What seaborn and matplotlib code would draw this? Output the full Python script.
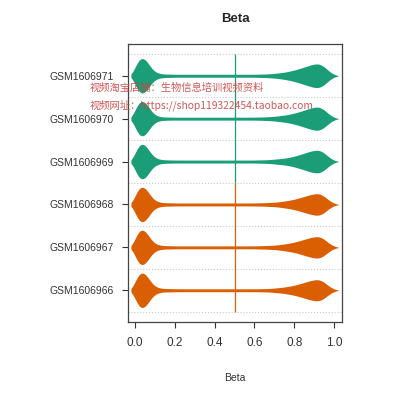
import numpy as np
import pandas as pd
import matplotlib
matplotlib.use("Agg")
import matplotlib.pyplot as plt
import seaborn as sns

beta_grid = [round(0.02 * i, 2) for i in range(51)]

samples = ["GSM1606971", "GSM1606970", "GSM1606969",
           "GSM1606968", "GSM1606967", "GSM1606966"]
groups = ["green", "green", "green", "orange", "orange", "orange"]

counts_971 = [45, 92, 100, 80, 44, 22, 13, 10, 9, 9,
              8, 8, 8, 8, 8, 8, 8, 8, 8, 8,
              8, 8, 8, 8, 8, 8, 8, 8, 8, 8,
              8, 9, 9, 10, 11, 13, 15, 18, 21, 26,
              31, 37, 44, 51, 58, 64, 66, 58, 40, 20, 7]
counts_970 = [46, 93, 100, 79, 43, 21, 12, 9, 9, 8,
              8, 8, 8, 8, 8, 8, 8, 8, 8, 8,
              8, 8, 8, 8, 8, 8, 8, 8, 8, 8,
              8, 9, 9, 10, 11, 13, 15, 18, 21, 25,
              30, 36, 43, 50, 57, 63, 65, 57, 39, 20, 7]
counts_969 = [45, 92, 100, 80, 44, 22, 13, 10, 9, 9,
              8, 8, 8, 8, 8, 8, 8, 8, 8, 8,
              8, 8, 8, 8, 8, 8, 8, 8, 8, 8,
              8, 9, 9, 10, 11, 13, 15, 17, 20, 24,
              29, 35, 42, 49, 56, 61, 63, 56, 38, 19, 7]
counts_968 = [45, 92, 100, 80, 44, 22, 13, 10, 9, 9,
              8, 8, 8, 8, 8, 8, 8, 8, 8, 8,
              8, 8, 8, 8, 8, 8, 8, 8, 8, 8,
              8, 9, 9, 10, 11, 12, 14, 17, 20, 24,
              28, 34, 40, 47, 53, 58, 60, 53, 36, 18, 7]
counts_967 = [46, 93, 100, 79, 43, 21, 13, 10, 9, 9,
              8, 8, 8, 8, 8, 8, 8, 8, 8, 8,
              8, 8, 8, 8, 8, 8, 8, 8, 8, 8,
              8, 9, 9, 10, 11, 12, 14, 17, 20, 24,
              28, 34, 40, 47, 53, 58, 60, 53, 36, 18, 7]
counts_966 = [45, 92, 100, 80, 44, 22, 13, 10, 9, 9,
              8, 8, 8, 8, 8, 8, 8, 8, 8, 8,
              8, 8, 8, 8, 8, 8, 8, 8, 8, 8,
              8, 8, 9, 9, 10, 12, 14, 16, 19, 23,
              27, 33, 39, 46, 52, 57, 59, 52, 35, 18, 7]

all_counts = [counts_971, counts_970, counts_969,
              counts_968, counts_967, counts_966]

# group reference line (x position) per group
group_names = ["green", "orange"]
group_line = [0.5, 0.5]
group_colors = {"green": "#1B9E77", "orange": "#D95F02"}

rows = []
for s, g, c in zip(samples, groups, all_counts):
    vals = np.repeat(beta_grid, c)
    rows.append(pd.DataFrame({"Beta": vals, "sample": s, "group": g}))
df = pd.concat(rows, ignore_index=True)

sns.set_style("white")
plt.rcParams["font.family"] = ["Liberation Sans", "DejaVu Sans"]

fig = plt.figure(figsize=(4, 4), dpi=100)
ax = fig.add_axes([0.32, 0.195, 0.535, 0.695])

sns.violinplot(data=df, x="Beta", y="sample", hue="group", order=samples,
               palette=group_colors, orient="h", inner=None, linewidth=0,
               density_norm="width", width=0.8, bw_method=0.036, cut=1.5,
               saturation=1, legend=False, dodge=False, ax=ax)

# group lines, each spanning its own block of rows
for gname, xline in zip(group_names, group_line):
    idx = [i for i, g in enumerate(groups) if g == gname]
    ax.vlines(xline, min(idx) - 0.5, max(idx) + 0.5,
              colors=group_colors[gname], linewidth=0.9, zorder=5)

ax.set_xlim(-0.035, 1.04)
ax.set_ylim(len(samples) - 1 + 0.74, -0.74)

ax.set_yticks(np.arange(-0.5, len(samples), 1.0), minor=True)
ax.grid(which="minor", axis="y", linestyle=":", color="#c8c8c8", linewidth=0.8)
ax.grid(which="major", visible=False)

ax.set_xticks([0.0, 0.2, 0.4, 0.6, 0.8, 1.0])
ax.set_xticklabels(["0.0", "0.2", "0.4", "0.6", "0.8", "1.0"])
ax.tick_params(axis="both", which="major", length=4, width=0.8,
               color="#333333", labelcolor="#333333",
               direction="out", left=True, bottom=True, pad=6)
ax.tick_params(axis="y", which="major", labelsize=7.5)
ax.tick_params(axis="x", which="major", labelsize=8.5, pad=7)
ax.tick_params(axis="y", which="minor", length=0)

for sp in ax.spines.values():
    sp.set_color("#444444")
    sp.set_linewidth(0.9)

ax.set_ylabel("")
ax.set_xlabel("Beta", fontsize=7.5, color="#333333", labelpad=17)
ax.set_title("Beta", fontsize=9.5, fontweight="bold", pad=16)

wm_font = ["Noto Sans CJK SC", "DejaVu Sans"]
fig.text(0.225, 0.78, "视频淘宝店铺：生物信息培训视频资料", color="#cc4444",
         fontsize=7.4, family=wm_font, alpha=0.9, va="center")
fig.text(0.225, 0.737, "视频网址：https://shop119322454.taobao.com", color="#cc4444",
         fontsize=7.4, family=wm_font, alpha=0.9, va="center")

fig.savefig("out.png", dpi=100)
